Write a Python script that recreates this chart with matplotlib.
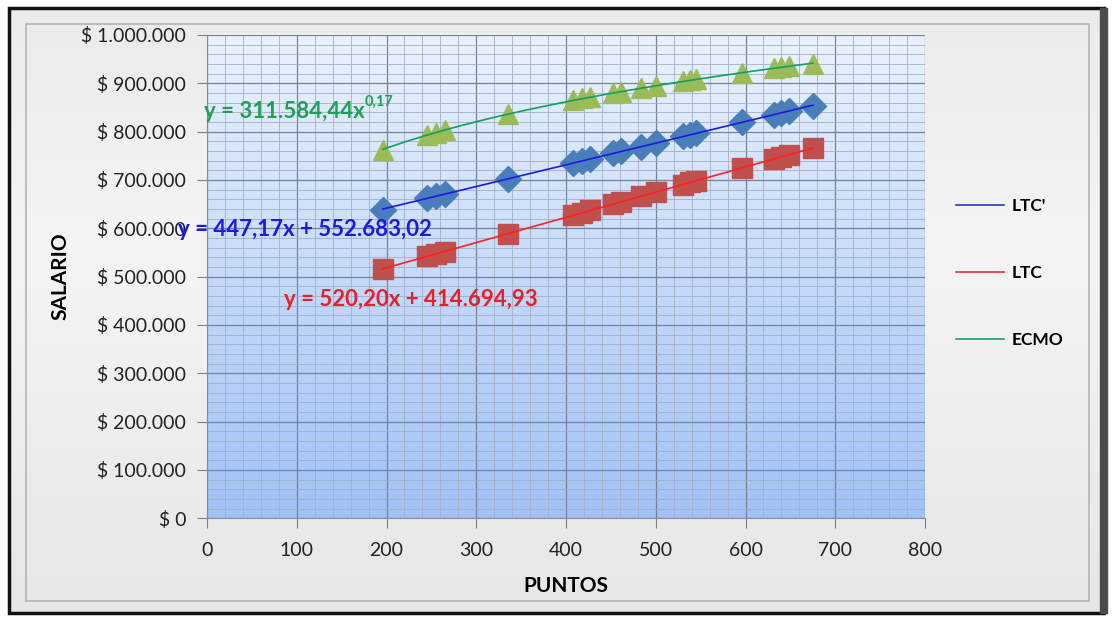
import numpy as np
import matplotlib.pyplot as plt
from matplotlib.patches import Rectangle
from matplotlib.lines import Line2D
from matplotlib.ticker import FuncFormatter, MultipleLocator

plt.rcParams['font.family'] = ['Lato', 'DejaVu Sans']

puntos = [196, 245, 255, 265, 335, 408, 418, 427, 452, 461,
          484, 500, 530, 538, 545, 596, 632, 640, 648, 675]
ltc_prima = [638000, 662000, 667000, 671000, 702000, 735000, 740000, 744000, 755000, 759000,
             769000, 777000, 790000, 793000, 797000, 819000, 835000, 839000, 842000, 854000]
ltc = [516000, 542000, 547000, 552000, 589000, 627000, 632000, 637000, 650000, 655000,
       667000, 675000, 690000, 695000, 698000, 725000, 744000, 748000, 752000, 766000]
ecmo = [763000, 793000, 798000, 803000, 836000, 865000, 869000, 872000, 880000, 883000,
        890000, 895000, 904000, 906000, 908000, 922000, 931000, 933000, 935000, 941000]

eq_ltc_prima = "y = 447,17x + 552.683,02"
eq_ltc = "y = 520,20x + 414.694,93"
eq_ecmo = "y = 311.584,44x"
eq_ecmo_exp = "0,17"

W, H = 1115, 621
fig = plt.figure(figsize=(W / 100, H / 100), dpi=100)
fig.patch.set_facecolor('white')

# marco gris con borde oscuro
bg = fig.add_axes([0, 0, 1, 1], zorder=-10)
bg.set_xlim(0, W)
bg.set_ylim(H, 0)
bg.axis('off')
g = np.linspace(0, 1, 200)[:, None]
g = 0.955 - 0.09 * np.abs(g - 0.4)
bg.imshow(g, extent=[10, W - 12, H - 8, 8], cmap='gray', vmin=0, vmax=1,
          aspect='auto', zorder=0)
bg.add_patch(Rectangle((9, 8), W - 20, H - 16, fill=False, edgecolor='#111111', lw=2.5, zorder=2))
bg.add_patch(Rectangle((26, 24), W - 52, H - 44, fill=False, edgecolor='#b4b4b4', lw=1.2, zorder=2))
bg.add_patch(Rectangle((W - 15, 8), 7, H - 16, color='#4a4a4a', zorder=2))

ax = fig.add_axes([207 / W, 1 - 518.3 / H, (925 - 207) / W, (518.3 - 35) / H])
ax.set_xlim(0, 800)
ax.set_ylim(0, 1000000)

# fondo degradado azul
t = np.linspace(0, 1, 256)[:, None, None]
top = np.array([0.92, 0.95, 0.99])
bot = np.array([0.63, 0.76, 0.97])
img = top + (bot - top) * t
ax.imshow(img, extent=[0, 800, 0, 1000000], aspect='auto', zorder=0)
ax.set_ylim(0, 1000000)

ax.xaxis.set_major_locator(MultipleLocator(100))
ax.xaxis.set_minor_locator(MultipleLocator(20))
ax.yaxis.set_major_locator(MultipleLocator(100000))
ax.yaxis.set_minor_locator(MultipleLocator(20000))
ax.grid(which='major', color='#76839a', lw=0.9, zorder=1)
ax.grid(which='minor', color='#a3afc4', lw=0.6, zorder=1)
ax.set_axisbelow(True)
ax.yaxis.set_major_formatter(FuncFormatter(lambda v, p: "$ " + f"{v:,.0f}".replace(",", ".")))
ax.tick_params(which='minor', length=0)
ax.tick_params(which='major', length=7, color='#808080', labelsize=14, labelcolor='#222222')
ax.tick_params(axis='y', pad=8)
ax.tick_params(axis='x', pad=10)
for side in ['top', 'right']:
    ax.spines[side].set_visible(False)
for side in ['left', 'bottom']:
    ax.spines[side].set_color('#8a8a8a')

x = np.array(puntos, dtype=float)
xs = np.linspace(x.min(), x.max(), 200)

ax.plot(x, ecmo, '^', color='#9bbb59', ms=15, mec='#9bbb59', zorder=3)
ax.plot(x, ltc_prima, 'D', color='#4a7ebb', ms=13, mec='#4a7ebb', zorder=3)
ax.plot(x, ltc, 's', color='#c0504d', ms=14, mec='#c0504d', zorder=3)

m1, b1 = np.polyfit(x, ltc_prima, 1)
m2, b2 = np.polyfit(x, ltc, 1)
pw, lc = np.polyfit(np.log(x), np.log(ecmo), 1)
ax.plot(xs, m1 * xs + b1, color='#1a1ae0', lw=1.2, zorder=4)
ax.plot(xs, m2 * xs + b2, color='#ff2020', lw=1.2, zorder=4)
ax.plot(xs, np.exp(lc) * xs ** pw, color='#10a060', lw=1.2, zorder=4)

t1 = ax.text(-3, 842000, eq_ecmo, color='#20a055', fontsize=16, fontweight='bold', zorder=5,
             va='center', ha='left', clip_on=False)
ax.annotate(eq_ecmo_exp, xy=(1, 0.62), xycoords=t1, color='#20a055', fontsize=10.5,
            fontweight='bold', va='bottom', ha='left', zorder=5)
ax.text(-32, 598000, eq_ltc_prima, color='#1a1ae6', fontsize=16, fontweight='bold', zorder=5,
        va='center', ha='left', clip_on=False)
ax.text(86, 452000, eq_ltc, color='#e8202a', fontsize=16, fontweight='bold', zorder=5,
        va='center', ha='left')

ax.set_xlabel('PUNTOS', fontsize=15, fontweight='bold', labelpad=12)
ax.set_ylabel('SALARIO', fontsize=15, fontweight='bold', labelpad=8)

handles = [Line2D([], [], color='#3030c0', lw=1.2),
           Line2D([], [], color='#e03030', lw=1.2),
           Line2D([], [], color='#20a060', lw=1.2)]
fig.legend(handles, ["LTC'", "LTC", "ECMO"], loc='upper left', bbox_to_anchor=(940 / W, 1 - 182 / H),
           frameon=False, labelspacing=2.95, handlelength=2.8, handletextpad=0.4,
           prop={'weight': 'bold', 'size': 12.5})

fig.savefig('out.png', dpi=100, facecolor=fig.get_facecolor())
